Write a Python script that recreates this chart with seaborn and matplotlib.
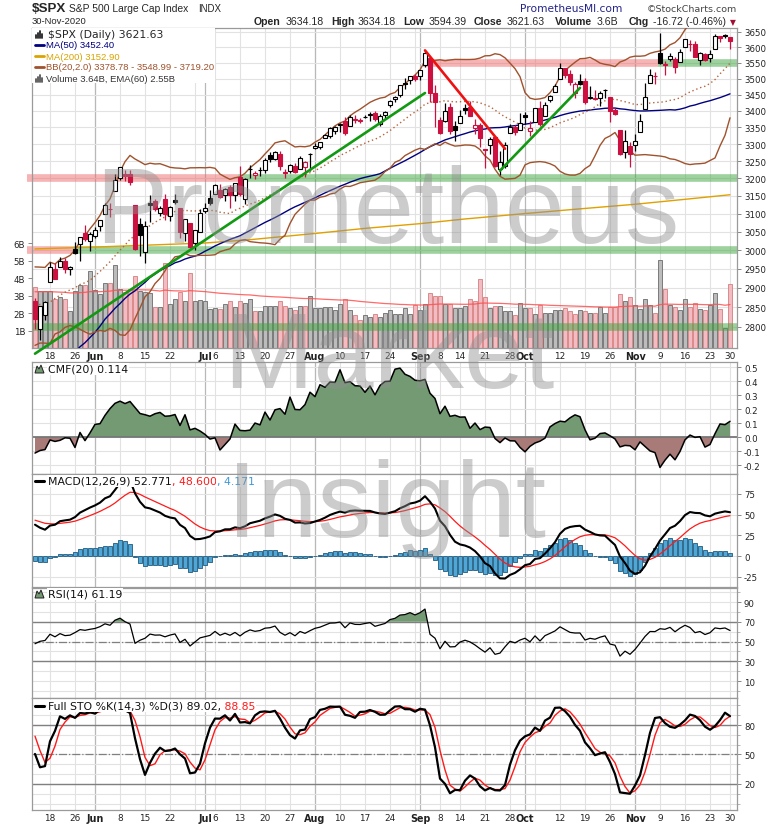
import numpy as np
import pandas as pd
import matplotlib
matplotlib.use("Agg")
import matplotlib.pyplot as plt
import seaborn as sns
from matplotlib.lines import Line2D
from matplotlib.patches import Rectangle, Polygon
from matplotlib.ticker import FixedLocator, FixedFormatter, NullLocator
from matplotlib.transforms import blended_transform_factory, Affine2D

# ---------------- data ----------------
# warm-up history (not drawn, only feeds the indicators): 2 Mar - 12 May 2020
warm_dates = pd.bdate_range("2020-03-02", "2020-05-12", freq="C", holidays=["2020-04-10"])
warm_close = [3090.23, 3003.37, 3130.12, 3023.94, 2972.37, 2746.56, 2882.23, 2741.38, 2480.64, 2711.02,
              2386.13, 2529.19, 2398.10, 2409.39, 2304.92, 2237.40, 2447.33, 2475.56, 2630.07, 2541.47,
              2626.65, 2584.59,
              2470.50, 2526.90, 2488.65, 2663.68, 2659.41, 2749.98, 2789.82, 2761.63, 2846.06, 2783.36,
              2799.55, 2874.56, 2823.16, 2736.56, 2799.31, 2797.80, 2836.74, 2878.48, 2863.39, 2939.51,
              2912.43,
              2830.71, 2842.74, 2868.44, 2848.42, 2881.19, 2929.80, 2930.32, 2870.12]
warm_high = [3090.96, 3136.72, 3130.97, 3083.04, 2985.93, 2863.89, 2882.59, 2825.60, 2660.95, 2711.33,
             2562.98, 2553.93, 2453.57, 2466.97, 2453.01, 2300.73, 2449.71, 2571.42, 2637.01, 2615.91,
             2631.80, 2641.39,
             2522.75, 2533.22, 2538.18, 2676.52, 2756.89, 2760.75, 2818.57, 2782.46, 2851.85, 2815.10,
             2806.51, 2879.22, 2868.98, 2785.54, 2815.10, 2844.24, 2842.71, 2887.72, 2921.40, 2954.86,
             2930.91,
             2869.09, 2844.24, 2898.23, 2891.11, 2901.92, 2932.16, 2944.25, 2945.82]
warm_low = [2945.19, 2976.63, 3034.38, 2999.83, 2901.54, 2734.43, 2734.00, 2707.22, 2478.86, 2492.37,
            2380.94, 2367.04, 2280.52, 2319.78, 2295.56, 2191.86, 2344.44, 2407.53, 2500.72, 2520.02,
            2545.28, 2571.15,
            2447.49, 2455.79, 2459.96, 2574.57, 2657.67, 2663.30, 2762.36, 2721.17, 2805.10, 2775.95,
            2764.32, 2830.88, 2820.43, 2727.10, 2775.95, 2794.26, 2791.76, 2852.89, 2860.71, 2912.16,
            2892.47,
            2821.61, 2797.85, 2863.55, 2847.65, 2876.48, 2913.86, 2903.44, 2869.59]
warm_vol = [3.6, 3.7, 3.4, 3.5, 3.6, 3.9, 3.7, 3.6, 4.0, 3.8, 3.7, 3.6, 3.7, 3.5, 3.8, 3.3, 3.5, 3.4, 3.2, 3.1,
            3.0, 3.2,
            3.1, 3.0, 2.9, 3.2, 3.3, 3.0, 3.4, 2.8, 3.1, 3.0, 3.2, 3.3, 2.9, 3.1, 2.8, 2.9, 2.7, 3.0, 3.1,
            3.3, 3.4,
            3.0, 2.9, 2.8, 2.8, 2.7, 2.8, 2.9, 3.1]

# shown window: 13 May - 30 Nov 2020
dates = pd.bdate_range("2020-05-13", "2020-11-30", freq="C",
                       holidays=["2020-05-25", "2020-07-03", "2020-09-07", "2020-11-26"])
opens = [2865.86, 2794.54, 2829.95, 2913.86, 2948.59, 2953.63, 2969.95, 2948.05, 3004.08, 3015.65, 3046.61, 3025.17,
         3038.78, 3064.78, 3098.90, 3111.56, 3163.84, 3199.92, 3213.32, 3213.42, 3123.53, 3071.04, 2993.76, 3131.00,
         3136.13, 3101.64, 3140.29, 3094.42, 3138.70, 3114.40, 3046.60, 3073.20, 3018.59, 3050.20,
         3105.92, 3143.64, 3155.29, 3166.44, 3153.07, 3176.17, 3152.47, 3205.08, 3141.11, 3225.98, 3208.36, 3224.21,
         3224.29, 3268.52, 3254.86, 3271.64, 3218.58, 3219.84, 3234.27, 3227.22, 3231.76, 3270.45,
         3288.26, 3289.92, 3317.37, 3323.17, 3340.05, 3356.04, 3370.34, 3355.46, 3372.95, 3368.66, 3380.86, 3387.04,
         3392.51, 3360.48, 3386.01, 3418.09, 3435.95, 3449.97, 3485.14, 3494.69, 3509.73,
         3507.44, 3543.76, 3564.74, 3453.60, 3371.88, 3369.82, 3412.56, 3352.70, 3363.56, 3407.73, 3411.23, 3346.86,
         3357.38, 3285.57, 3295.75, 3320.11, 3226.14, 3236.66, 3333.90, 3350.92, 3341.21,
         3385.87, 3338.94, 3367.27, 3408.74, 3384.56, 3434.28, 3459.67, 3500.02, 3534.01, 3515.47, 3453.72, 3493.50,
         3493.66, 3439.38, 3439.91, 3438.50, 3464.90, 3441.42, 3403.15, 3342.48, 3277.17, 3293.59,
         3296.20, 3336.25, 3406.46, 3485.74, 3508.34, 3583.04, 3543.26, 3563.22, 3562.67, 3552.57, 3600.16, 3610.31,
         3612.09, 3559.41, 3579.31, 3566.82, 3594.52, 3635.50, 3638.55, 3634.18]
highs = [2874.14, 2852.80, 2865.01, 2968.09, 2964.21, 2980.29, 2978.50, 2956.76, 3021.72, 3036.25, 3068.67, 3049.17,
         3062.18, 3081.07, 3130.94, 3128.91, 3211.72, 3233.13, 3222.71, 3223.27, 3123.53, 3088.42, 3079.76, 3153.45,
         3141.16, 3120.00, 3155.53, 3120.92, 3154.90, 3115.01, 3086.25, 3073.73, 3053.89, 3111.51,
         3128.44, 3165.81, 3182.59, 3184.15, 3171.80, 3179.78, 3186.82, 3235.32, 3200.95, 3238.28, 3220.39, 3233.52,
         3258.61, 3277.29, 3279.32, 3279.99, 3227.26, 3241.43, 3243.72, 3264.74, 3250.92, 3272.17,
         3302.73, 3306.84, 3330.77, 3351.03, 3352.54, 3363.29, 3381.01, 3387.89, 3387.24, 3378.51, 3387.59, 3395.06,
         3399.54, 3390.80, 3399.96, 3432.09, 3444.21, 3481.07, 3501.38, 3509.23, 3514.77,
         3528.03, 3588.11, 3564.85, 3479.15, 3379.97, 3424.77, 3425.55, 3368.95, 3402.93, 3419.48, 3428.92, 3375.17,
         3362.27, 3285.57, 3320.31, 3323.35, 3278.70, 3306.88, 3360.74, 3357.92, 3393.56,
         3397.18, 3369.10, 3409.57, 3431.56, 3426.26, 3447.28, 3482.34, 3549.85, 3534.01, 3527.94, 3489.08, 3515.76,
         3502.42, 3476.93, 3464.86, 3460.53, 3466.46, 3441.42, 3409.51, 3342.48, 3341.05, 3304.93,
         3330.14, 3389.49, 3486.25, 3529.05, 3521.58, 3645.99, 3557.22, 3581.16, 3569.02, 3593.66, 3628.51, 3623.11,
         3619.09, 3585.22, 3581.23, 3589.81, 3642.31, 3635.50, 3644.31, 3634.18]
lows = [2793.15, 2766.64, 2816.78, 2913.86, 2922.35, 2953.63, 2938.57, 2933.59, 2988.17, 2969.75, 3023.40, 2998.61,
        3031.54, 3051.64, 3098.90, 3090.41, 3163.84, 3196.00, 3193.11, 3181.49, 2999.49, 2984.47, 2965.66, 3076.06,
        3108.03, 3093.51, 3083.11, 3079.39, 3127.12, 3032.13, 3024.01, 3004.63, 2999.74, 3047.83,
        3101.17, 3124.52, 3155.29, 3142.93, 3136.53, 3115.70, 3136.22, 3149.43, 3127.66, 3200.76, 3198.59, 3205.65,
        3215.16, 3247.77, 3253.10, 3222.66, 3200.05, 3214.25, 3216.17, 3227.22, 3204.13, 3220.26,
        3284.53, 3286.37, 3317.37, 3318.14, 3328.72, 3335.44, 3326.44, 3355.46, 3363.35, 3361.64, 3379.22, 3370.15,
        3369.66, 3354.69, 3379.31, 3413.13, 3425.84, 3444.15, 3468.35, 3484.32, 3493.25,
        3494.60, 3535.23, 3427.41, 3349.63, 3329.27, 3366.84, 3329.25, 3310.47, 3363.56, 3389.25, 3384.45, 3328.82,
        3292.40, 3229.10, 3270.95, 3232.57, 3209.45, 3228.44, 3332.91, 3327.54, 3340.47,
        3361.39, 3323.69, 3367.27, 3354.54, 3384.56, 3428.15, 3458.07, 3499.61, 3500.86, 3480.55, 3440.89, 3480.45,
        3419.93, 3435.65, 3433.06, 3415.34, 3440.45, 3364.86, 3388.71, 3268.89, 3259.82, 3233.94,
        3279.74, 3336.25, 3405.17, 3485.74, 3484.34, 3547.48, 3511.91, 3557.00, 3518.58, 3552.57, 3600.16, 3588.68,
        3567.33, 3543.84, 3556.85, 3552.77, 3594.52, 3617.76, 3629.33, 3594.39]
closes = [2820.00, 2852.50, 2863.70, 2953.91, 2922.94, 2971.61, 2948.51, 2955.45, 2991.77, 3036.13, 3029.73, 3044.31,
          3055.73, 3080.82, 3122.87, 3112.35, 3193.93, 3232.39, 3207.18, 3190.14, 3002.10, 3041.31, 3066.59, 3124.74,
          3113.49, 3115.34, 3097.74, 3117.86, 3131.29, 3050.33, 3083.76, 3009.05, 3053.24, 3100.29,
          3115.86, 3130.01, 3179.72, 3145.32, 3169.94, 3152.05, 3185.04, 3155.22, 3197.52, 3226.56, 3215.57, 3224.73,
          3251.84, 3257.30, 3276.02, 3235.66, 3215.63, 3239.41, 3218.44, 3258.44, 3246.22, 3271.12,
          3294.61, 3306.51, 3327.77, 3349.16, 3351.28, 3360.47, 3333.69, 3380.35, 3373.43, 3372.85, 3381.99, 3389.78,
          3374.85, 3385.51, 3397.16, 3431.28, 3443.62, 3478.73, 3484.55, 3508.01, 3500.31,
          3526.65, 3580.84, 3455.06, 3426.96, 3331.84, 3398.96, 3339.19, 3340.97, 3383.54, 3401.20, 3385.49, 3357.01,
          3319.47, 3281.06, 3315.57, 3236.92, 3246.59, 3298.46, 3351.60, 3335.47, 3363.00,
          3380.80, 3348.42, 3408.60, 3360.97, 3419.44, 3446.83, 3477.14, 3534.22, 3511.93, 3488.67, 3483.34, 3483.81,
          3426.92, 3443.12, 3435.56, 3453.49, 3465.39, 3400.97, 3390.68, 3271.03, 3310.11, 3269.96,
          3310.24, 3369.16, 3443.44, 3510.45, 3509.44, 3550.50, 3545.53, 3572.66, 3537.01, 3585.15, 3626.91, 3609.53,
          3567.79, 3581.87, 3557.54, 3577.59, 3635.41, 3629.65, 3638.35, 3621.63]
volumes = [3.48, 3.25, 3.25, 3.25, 2.80, 2.90, 2.80, 2.14, 3.25, 3.63, 3.63, 4.38,
           3.30, 3.10, 3.70, 3.70, 4.76, 3.38, 3.19, 3.38, 4.10, 3.25, 3.23, 3.17,
           2.37, 2.37, 4.88, 2.49, 2.80, 3.20, 2.68, 4.30, 2.68, 2.72,
           2.66, 2.24, 2.28, 2.24, 2.53, 2.66, 2.33, 2.66, 2.56, 2.80, 2.14, 2.14,
           2.43, 2.43, 2.40, 2.66, 2.43, 2.30, 2.20, 2.43, 2.40, 3.00,
           2.30, 2.30, 2.35, 2.35, 2.20, 2.50, 2.78, 2.18, 1.90, 1.60, 1.90, 1.76,
           1.93, 1.76, 2.00, 2.20, 1.95, 1.95, 2.26, 1.95, 2.45,
           2.18, 2.50, 3.14, 3.00, 3.00, 2.50, 2.50, 2.30, 2.30, 2.43, 2.78, 2.70,
           3.95, 2.90, 2.30, 2.43, 2.40, 2.13, 2.13, 1.88, 2.57,
           2.28, 2.28, 1.93, 2.45, 1.99, 1.99, 2.18, 2.18, 2.28, 2.10, 1.93, 2.18,
           2.10, 2.03, 1.99, 2.32, 2.03, 2.32, 2.32, 3.08, 2.70, 2.91,
           2.45, 2.22, 2.80, 2.45, 2.03, 5.04, 3.37, 2.45, 2.32, 2.18, 2.80, 2.32,
           2.60, 2.22, 2.18, 2.45, 3.14, 2.22, 1.12, 3.64]

# 200-day average
ma200_dates = ["2020-05-13", "2020-06-01", "2020-06-15", "2020-07-01", "2020-07-15", "2020-08-03", "2020-08-17",
               "2020-09-01", "2020-09-15", "2020-10-01", "2020-10-15", "2020-11-02", "2020-11-16", "2020-11-30"]
ma200_vals = [3003, 3008, 3013, 3019, 3028, 3045, 3059, 3072, 3085, 3100, 3112, 3126, 3140, 3152.9]

# support / resistance bands (None = chart edge)
band_level = [3550, 3550, 3200, 3200, 3000, 3000, 2800]
band_from = ["2020-09-02", "2020-11-09", None, "2020-07-13", None, "2020-05-26", None]
band_to = ["2020-11-09", None, "2020-07-13", None, "2020-05-26", None, None]
band_kind = ["red", "green", "red", "green", "red", "green", "green"]

# hand-drawn trend lines
trend_d0 = ["2020-05-13", "2020-09-02", "2020-09-24"]
trend_p0 = [2733, 3590, 3222]
trend_d1 = ["2020-09-02", "2020-09-25", "2020-10-16"]
trend_p1 = [3455, 3286, 3471]
trend_kind = ["green", "red", "green"]

# date axis
week_starts = ["2020-05-18", "2020-05-26", "2020-06-01", "2020-06-08", "2020-06-15", "2020-06-22", "2020-06-29",
               "2020-07-06", "2020-07-13", "2020-07-20", "2020-07-27", "2020-08-03", "2020-08-10", "2020-08-17",
               "2020-08-24", "2020-08-31", "2020-09-08", "2020-09-14", "2020-09-21", "2020-09-28", "2020-10-05",
               "2020-10-12", "2020-10-19", "2020-10-26", "2020-11-02", "2020-11-09", "2020-11-16", "2020-11-23",
               "2020-11-30"]
month_starts = ["2020-06-01", "2020-07-01", "2020-08-03", "2020-09-01", "2020-10-01", "2020-11-02"]
tick_dates = ["2020-05-18", "2020-05-26", "2020-06-01", "2020-06-08", "2020-06-15", "2020-06-22", "2020-07-01",
              "2020-07-06", "2020-07-13", "2020-07-20", "2020-07-27", "2020-08-03", "2020-08-10", "2020-08-17",
              "2020-08-24", "2020-09-01", "2020-09-08", "2020-09-14", "2020-09-21", "2020-09-28", "2020-10-01",
              "2020-10-12", "2020-10-19", "2020-10-26", "2020-11-02", "2020-11-09", "2020-11-16", "2020-11-23",
              "2020-11-30"]
tick_labels = ["18", "26", "Jun", "8", "15", "22", "Jul", "6", "13", "20", "27", "Aug", "10", "17", "24", "Sep",
               "8", "14", "21", "28", "Oct", "12", "19", "26", "Nov", "9", "16", "23", "30"]
month_names = ["Jun", "Jul", "Aug", "Sep", "Oct", "Nov"]

price_ticks = list(range(2800, 3651, 50))
vol_ticks = [1, 2, 3, 4, 5, 6]

# ---------------- indicators ----------------
n0 = len(warm_close)
c_all = pd.Series(warm_close + closes)
h_all = pd.Series(warm_high + highs)
l_all = pd.Series(warm_low + lows)
v_all = pd.Series(warm_vol + volumes)

ma50 = c_all.rolling(50).mean()
bb_mid = c_all.rolling(20).mean()
bb_sd = c_all.rolling(20).std(ddof=0)
bb_up = bb_mid + 2 * bb_sd
bb_lo = bb_mid - 2 * bb_sd
vol_ema = v_all.ewm(span=60, adjust=False).mean()

mfm = ((c_all - l_all) - (h_all - c_all)) / (h_all - l_all)
cmf = (mfm * v_all).rolling(20).sum() / v_all.rolling(20).sum()

macd = c_all.ewm(span=12, adjust=False).mean() - c_all.ewm(span=26, adjust=False).mean()
signal = macd.ewm(span=9, adjust=False).mean()
hist = macd - signal

delta = c_all.diff()
gain = delta.clip(lower=0).ewm(alpha=1 / 14, adjust=False).mean()
loss = (-delta.clip(upper=0)).ewm(alpha=1 / 14, adjust=False).mean()
rsi = 100 - 100 / (1 + gain / loss)

fast_k = 100 * (c_all - l_all.rolling(14).min()) / (h_all.rolling(14).max() - l_all.rolling(14).min())
sto_k = fast_k.rolling(3).mean()
sto_d = sto_k.rolling(3).mean()

def win(s):
    return s.iloc[n0:].to_numpy()

x = np.arange(len(dates))
pos = {d: i for i, d in enumerate(dates.strftime("%Y-%m-%d"))}
o = np.array(opens); h = np.array(highs); l = np.array(lows); c = np.array(closes)
prev = win(c_all.shift(1))

# ---------------- figure ----------------
sns.set_theme(style="white")
plt.rcParams["font.family"] = ["DejaVu Sans"]
W, H = 780, 828
fig = plt.figure(figsize=(W / 100, H / 100), dpi=100)
fig.patch.set_facecolor("white")

def fx(px):
    return px / W

def fy(py):
    return 1 - py / H

def panel(top, bottom):
    return fig.add_axes([fx(32), fy(bottom), (737 - 32) / W, (bottom - top) / H])

RED = "#cc1040"
XMIN, XMAX = -0.6, 140.4
week_idx = [pos[d] for d in week_starts]
month_idx = [pos[d] for d in month_starts]
tick_idx = [pos[d] for d in tick_dates]

def style(ax, ylo, yhi, ticks, labels, xlabels=False, minor=None):
    ax.set_xlim(XMIN, XMAX)
    ax.set_ylim(ylo, yhi)
    for s in ax.spines.values():
        s.set_color("#9a9a9a")
        s.set_linewidth(0.9)
    for i in week_idx:
        ax.axvline(i, color="#e2e2e2", lw=0.8, zorder=0)
    for i in month_idx:
        ax.axvline(i, color="#b8b8b8", lw=0.9, zorder=0)
    ax.yaxis.tick_right()
    ax.yaxis.set_major_locator(FixedLocator(ticks))
    ax.yaxis.set_major_formatter(FixedFormatter(labels))
    if minor is not None:
        ax.yaxis.set_minor_locator(FixedLocator(minor))
    else:
        ax.yaxis.set_minor_locator(NullLocator())
    ax.tick_params(axis="y", which="major", labelsize=6.2, length=3, width=0.7, color="#888888",
                   pad=2, labelcolor="#222222", right=True, left=False)
    ax.tick_params(axis="y", which="minor", length=2, width=0.6, color="#aaaaaa", right=True, left=False)
    if xlabels:
        ax.set_xticks(tick_idx)
        ax.set_xticklabels(tick_labels)
        ax.tick_params(axis="x", labelsize=6.4, length=0, pad=2, labelcolor="#222222")
        for t in ax.get_xticklabels():
            if t.get_text() in month_names:
                t.set_fontweight("bold")
                t.set_fontsize(6.9)
    else:
        ax.set_xticks([])

# ---- price panel ----
ax_p = panel(29, 349)
ax_p.set_yscale("log")
style(ax_p, 2747, 3663, price_ticks, [str(v) for v in price_ticks], xlabels=True)
for v in price_ticks:
    ax_p.axhline(v, color="#e2e2e2", lw=0.8, zorder=0.5)

VOL_TOP = 18.3
tv = blended_transform_factory(ax_p.transData, Affine2D().scale(1, 1 / VOL_TOP) + ax_p.transAxes)
v_up = c >= prev
ax_p.bar(x, volumes, width=0.86, bottom=0, transform=tv,
         color=np.where(v_up, "#bcbcbc", "#f1bcc3"),
         edgecolor=np.where(v_up, "#7a7a7a", "#dd8a8a"), linewidth=0.7, zorder=1)
ax_p.plot(x, win(vol_ema), transform=tv, color="#ff5050", lw=0.9, alpha=0.85, zorder=1.5)

for lvl, d0, d1, kind in zip(band_level, band_from, band_to, band_kind):
    x0 = XMIN - 1.0 if d0 is None else pos[d0] - 0.5
    x1 = XMAX if d1 is None else pos[d1] - 0.5
    if d0 is None and kind == "green":
        x0 = XMIN
    ax_p.plot([x0, x1], [lvl, lvl], color="#ee6a6a" if kind == "red" else "#3da53d", alpha=0.5,
              lw=5.5, solid_capstyle="butt", clip_on=False, zorder=2)

sns.lineplot(x=[pos[d] for d in ma200_dates], y=ma200_vals, ax=ax_p, color="#e0a000", lw=1.0, zorder=3)
sns.lineplot(x=x, y=win(ma50), ax=ax_p, color="#000080", lw=1.0, zorder=3)
sns.lineplot(x=x, y=win(bb_up), ax=ax_p, color="#a0522d", lw=1.0, zorder=3)
sns.lineplot(x=x, y=win(bb_lo), ax=ax_p, color="#a0522d", lw=1.0, zorder=3)
ax_p.plot(x, win(bb_mid), color="#b5653d", lw=1.0, ls=(0, (1, 2)), zorder=3)

for d0, p0, d1, p1, kind in zip(trend_d0, trend_p0, trend_d1, trend_p1, trend_kind):
    ax_p.plot([pos[d0], pos[d1]], [p0, p1], color="#119911" if kind == "green" else "#ee1111",
              lw=1.9, clip_on=False, zorder=6, solid_capstyle="round")

edge = np.where(c >= prev, "black", RED)
face = np.where(c > o, "white", edge)
ax_p.vlines(x, l, h, colors=edge, lw=0.9, zorder=4)
ax_p.bar(x, np.maximum(np.abs(c - o), 0.8), bottom=np.minimum(o, c), width=0.62,
         color=face, edgecolor=edge, linewidth=0.8, zorder=5)
ax_p.set_ylim(2747, 3663)
ax_p.set_xlim(XMIN, XMAX)
ax_p.set_xlabel("")
ax_p.set_ylabel("")

ax_v = ax_p.twinx()
ax_v.set_ylim(0, VOL_TOP)
ax_v.yaxis.tick_left()
ax_v.yaxis.set_major_locator(FixedLocator(vol_ticks))
ax_v.yaxis.set_major_formatter(FixedFormatter([f"{v}B" for v in vol_ticks]))
ax_v.tick_params(axis="y", labelsize=6.2, length=3, width=0.7, color="#888888", pad=2,
                 labelcolor="#222222", left=True, right=False)
for s in ax_v.spines.values():
    s.set_visible(False)
ax_p.yaxis.tick_right()
ax_p.tick_params(axis="y", right=True, left=False)

# legend box
ax_p.add_patch(Rectangle((0, 1 - (84 - 29) / 320), (215 - 32) / 705, (84 - 29) / 320,
                         transform=ax_p.transAxes, facecolor="white", edgecolor="none", zorder=7))

# ---- CMF ----
ax_c = panel(363, 475)
cmf_ticks = [0.5, 0.4, 0.3, 0.2, 0.1, 0.0, -0.1, -0.2]
style(ax_c, -0.264, 0.536, cmf_ticks, [f"{v:.1f}" for v in cmf_ticks])
for v in cmf_ticks:
    ax_c.axhline(v, color="#e2e2e2", lw=0.8, zorder=0)
cm = win(cmf)
ax_c.fill_between(x, cm, 0, where=cm >= 0, interpolate=True, color="#739a73", lw=0, zorder=1)
ax_c.fill_between(x, cm, 0, where=cm <= 0, interpolate=True, color="#a87a78", lw=0, zorder=1)
ax_c.axhline(0, color="#777777", lw=1.3, zorder=2)
sns.lineplot(x=x, y=cm, ax=ax_c, color="black", lw=1.1, zorder=3)
ax_c.set_ylim(-0.264, 0.536)

# ---- MACD ----
ax_m = panel(475, 588)
macd_ticks = [75, 50, 25, 0, -25]
style(ax_m, -37.3, 98.8, macd_ticks, [str(v) for v in macd_ticks])
for v in macd_ticks:
    ax_m.axhline(v, color="#e2e2e2", lw=0.8, zorder=0)
ax_m.bar(x, win(hist), width=0.9, color="#4ea7d6", edgecolor="#1f5a7e", linewidth=0.6, zorder=1)
sns.lineplot(x=x, y=win(signal), ax=ax_m, color="#ff1a1a", lw=0.9, zorder=3)
sns.lineplot(x=x, y=win(macd), ax=ax_m, color="black", lw=1.5, zorder=4)
ax_m.set_ylim(-37.3, 98.8)

# ---- RSI ----
ax_r = panel(589, 699)
rsi_ticks = [90, 70, 50, 30, 10]
style(ax_r, -7.2, 104.2, rsi_ticks, [str(v) for v in rsi_ticks], minor=list(range(0, 101, 10)))
for v in range(0, 101, 10):
    ax_r.axhline(v, color="#e2e2e2", lw=0.8, zorder=0)
ax_r.axhline(70, color="#808080", lw=1.0, zorder=1)
ax_r.axhline(30, color="#808080", lw=1.0, zorder=1)
ax_r.axhline(50, color="#808080", lw=0.9, ls="-.", zorder=1)
rs = win(rsi)
ax_r.fill_between(x, rs, 70, where=rs >= 70, interpolate=True, color="#739a73", lw=0, zorder=2)
sns.lineplot(x=x, y=rs, ax=ax_r, color="black", lw=0.9, zorder=3)
ax_r.set_ylim(-7.2, 104.2)

# ---- Full stochastics ----
ax_s = panel(699, 811)
sto_ticks = [80, 50, 20]
style(ax_s, -6.5, 107.5, sto_ticks, [str(v) for v in sto_ticks], xlabels=True,
      minor=list(range(0, 101, 10)))
for v in range(0, 101, 10):
    ax_s.axhline(v, color="#e2e2e2", lw=0.8, zorder=0)
ax_s.axhline(80, color="#808080", lw=1.0, zorder=1)
ax_s.axhline(20, color="#808080", lw=1.0, zorder=1)
ax_s.axhline(50, color="#808080", lw=0.9, ls="-.", zorder=1)
sns.lineplot(x=x, y=win(sto_d), ax=ax_s, color="#ff1a1a", lw=1.0, zorder=3)
sns.lineplot(x=x, y=win(sto_k), ax=ax_s, color="black", lw=1.6, zorder=4)
ax_s.set_ylim(-6.5, 107.5)

for ax in (ax_c, ax_m, ax_r, ax_s):
    ax.set_xlabel("")
    ax.set_ylabel("")

# ---------------- texts ----------------
renderer = fig.canvas.get_renderer()

def chain(x_px, y_px, parts, size, family="DejaVu Sans", bg=False):
    xp = x_px
    for s, col, wt in parts:
        t = fig.text(fx(xp), fy(y_px), s, color=col, fontweight=wt, fontsize=size, family=family,
                     va="center", ha="left", zorder=20)
        if bg:
            t.set_bbox(dict(facecolor="white", edgecolor="none", pad=0.6))
        xp += t.get_window_extent(renderer=renderer).width
    return xp

def line_icon(y_px, col, lw=2.0):
    fig.add_artist(Line2D([fx(35), fx(44)], [fy(y_px), fy(y_px)], color=col, lw=lw, zorder=21))

def mountain_icon(y_px):
    pts = [(35, y_px + 4), (37, y_px - 3), (39, y_px), (41, y_px - 4), (44, y_px + 4)]
    fig.add_artist(Polygon([(fx(a), fy(b)) for a, b in pts], closed=True, facecolor="#739a73",
                           edgecolor="#222222", lw=0.7, zorder=21))

def bar_icon(y_px, col):
    for k, hh in enumerate([3, 5, 7, 4]):
        fig.add_artist(Line2D([fx(35.5 + 2.2 * k)] * 2, [fy(y_px + 3.5), fy(y_px + 3.5 - hh)],
                              color=col, lw=1.3, zorder=21))

# header
fig.text(fx(32), fy(9), "$SPX", fontsize=9.6, fontweight="bold", family="Liberation Sans", va="center")
fig.text(fx(69), fy(9), "S&P 500 Large Cap Index", fontsize=7.4, family="Liberation Sans", va="center")
fig.text(fx(198), fy(9.5), "INDX", fontsize=7.0, family="Liberation Sans", va="center")
fig.text(fx(32), fy(22), "30-Nov-2020", fontsize=6.8, family="Liberation Sans", va="center")
fig.text(fx(520), fy(9), "PrometheusMI.com", fontsize=7.7, color="#23238a", va="center")
fig.text(fx(647), fy(9), "\u00a9StockCharts.com", fontsize=6.8, color="#444444", va="center")

hdr = [("Open", 254, "bold"), ("3634.18", 286, "normal"), ("High", 331, "bold"), ("3634.18", 358, "normal"),
       ("Low", 403, "bold"), ("3594.39", 429, "normal"), ("Close", 474, "bold"), ("3621.63", 507, "normal"),
       ("Volume", 555, "bold"), ("3.6B", 597, "normal"), ("Chg", 629, "bold"),
       ("-16.72 (-0.46%)", 653, "normal")]
for s, xp, wt in hdr:
    fig.text(fx(xp), fy(22), s, fontsize=7.6, fontweight=wt, family="Liberation Sans", va="center")
fig.text(fx(730), fy(22.5), "\u25bc", fontsize=5.5, color="#a01030", va="center")

# price legend
bar_icon(35, "#222222")
fig.text(fx(48), fy(35), "$SPX (Daily) 3621.63", fontsize=7.8, va="center", zorder=20)
legend_rows = [("MA(50) 3452.40", "#000080", 46), ("MA(200) 3152.90", "#d9a300", 57),
               ("BB(20,2.0) 3378.78 - 3548.99 - 3719.20", "#a0522d", 68)]
for s, col, yp in legend_rows:
    line_icon(yp, col)
    fig.text(fx(46), fy(yp), s, fontsize=6.8, color=col, family="Liberation Sans", va="center", zorder=20)
bar_icon(79, "#555555")
fig.text(fx(46), fy(79), "Volume 3.64B, EMA(60) 2.55B", fontsize=6.8, color="#333333",
         family="Liberation Sans", va="center", zorder=20)

# panel legends
mountain_icon(370)
chain(48, 370, [("CMF(20) 0.114", "#111111", "normal")], 7.8, bg=True)
line_icon(482, "black", lw=2.2)
chain(48, 482, [("MACD(12,26,9) 52.771", "#111111", "normal"), (", 48.600", "#ff1a1a", "normal"),
                (", 4.171", "#3a9ad9", "normal")], 7.8, bg=True)
mountain_icon(595)
chain(48, 595, [("RSI(14) 61.19", "#111111", "normal")], 7.8, bg=True)
line_icon(707, "black", lw=2.2)
chain(48, 707, [("Full STO %K(14,3) %D(3) 89.02,", "#111111", "normal"), (" 88.85", "#ff1a1a", "normal")],
      7.8, bg=True)

# watermark
for s, xp, yp in [("Prometheus", 95, 243), ("Market", 223, 388), ("Insight", 227, 537)]:
    fig.text(fx(xp), fy(yp), s, fontsize=78, color="#8f8f8f", alpha=0.45, family="Liberation Sans",
             va="baseline", ha="left", zorder=30)

fig.savefig("out.png", dpi=100, facecolor="white")
